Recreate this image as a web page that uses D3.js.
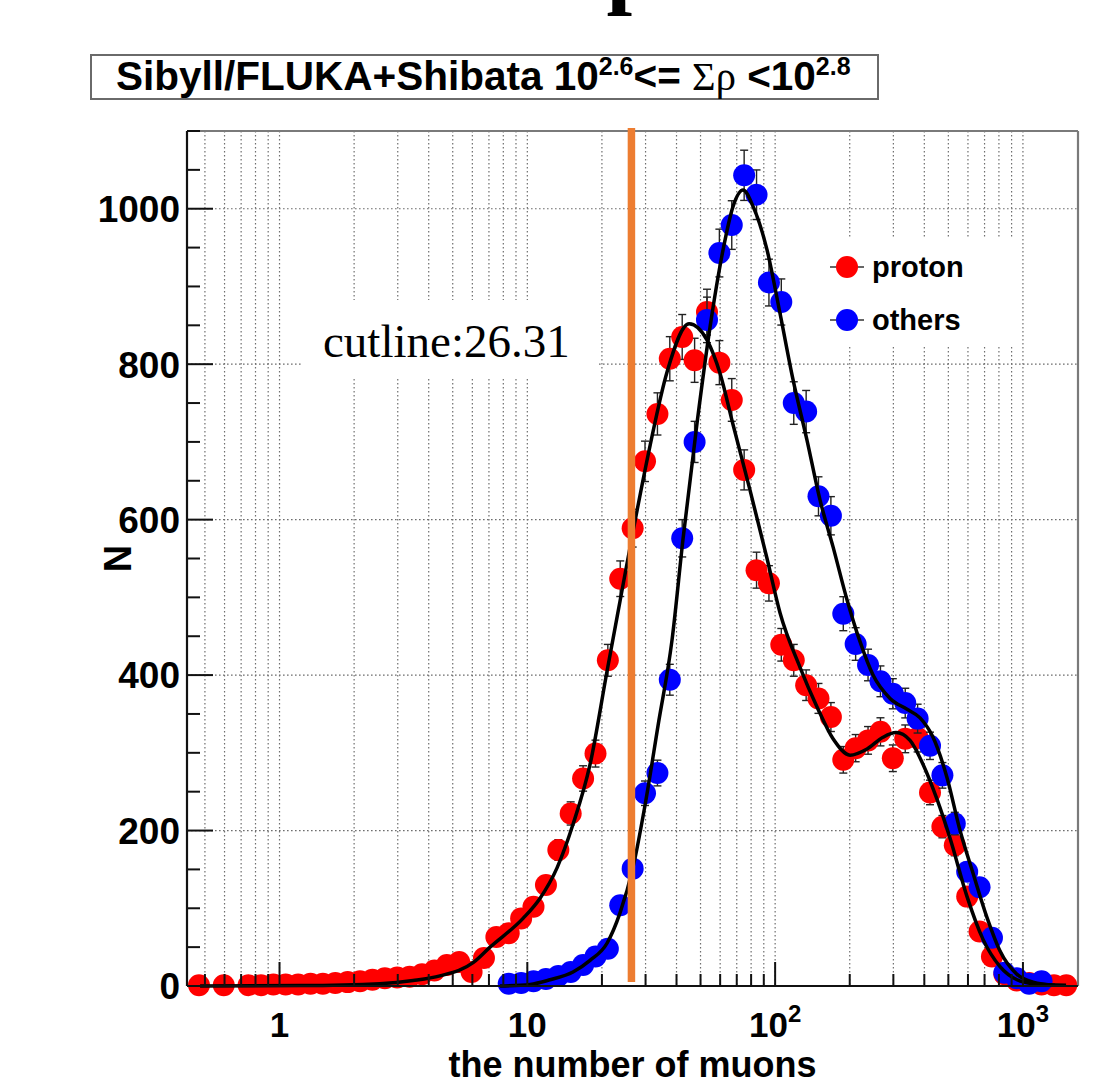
<!DOCTYPE html>
<html>
<head>
<meta charset="utf-8">
<script src="https://cdn.jsdelivr.net/npm/d3@7"></script>
<style>
  html, body { margin: 0; padding: 0; background: #fff; }
  svg { display: block; }
</style>
</head>
<body>
<svg id="chart" width="1108" height="1084"></svg>
<script>
// ---------------- DATA ----------------
// log-spaced bin centres (number of muons)
const binCenters = [0.4732,0.5309,0.5957,0.6683,0.7499,0.8414,0.9441,1.059,1.189,1.334,
  1.496,1.679,1.884,2.113,2.371,2.661,2.985,3.350,3.758,4.217,
  4.732,5.309,5.957,6.683,7.499,8.414,9.441,10.59,11.89,13.34,
  14.96,16.79,18.84,21.13,23.71,26.61,29.85,33.50,37.58,42.17,
  47.32,53.09,59.57,66.83,74.99,84.14,94.41,105.9,118.9,133.4,
  149.6,167.9,188.4,211.3,237.1,266.1,298.5,335.0,375.8,421.7,
  473.2,530.9,595.7,668.3,749.9,841.4,944.1,1059,1189,1334,1496];

const protonCounts = [1,null,1,null,1,1,2,2,2,3,
  3,4,5,6,8,10,11,12,15,20,
  27,31,18,36,63,68,87,102,130,175,
  222,267,299,419,524,589,675,736,807,835,
  805,867,802,754,664,535,518,439,419,387,
  370,346,291,306,316,327,293,318,319,249,
  205,181,115,70,38,15,7,4,2,1,1];

const othersCounts = [null,null,null,null,null,null,null,null,null,null,
  null,null,null,null,null,null,null,null,null,null,
  null,null,null,null,null,3,4,6,9,13,
  18,27,38,48,104,151,248,274,394,576,
  700,857,943,979,1043,1018,905,880,750,739,
  630,605,479,440,413,392,376,364,344,309,
  271,209,147,127,62,17,10,3,6,null,null];

// fitted curves
const protonFitX = [0.478,1.21,2.54,3.46,4.44,6.04,7.07,9.61,11.26,13.18,15.29,17.91,20.97,23.66,26.71,
  31.27,36.63,44.95,53.12,59.95,67.65,79.18,92.75,104.7,126.0,147.6,171.3,200.6,234.9,272.5,
  307.5,350.3,395.4,450.3,508.0,594.9,690.2,808.3,946.6,1098.5,1492.6];
const protonFitY = [0,0.5,3,7,13,30,50,87,113,152,208,285,405,495,585,
  695,790,852,831,788,722,638,550,480,410,359,318,297,305,320,
  326,316,285,240,190,115,60,25,8,3,1];

const othersFitX = [7.76,10.25,12.35,15.29,17.91,20.97,23.66,26.71,30.13,33.69,38.36,42.49,48.39,54.63,61.63,
  67.65,74.22,81.44,92.75,104.7,118.1,134.5,151.8,171.3,195.0,220.1,248.4,290.9,340.7,384.4,
  433.8,494.0,557.5,629.0,716.3,808.3,946.6,1098.5,1347.4];
const othersFitY = [0,2,8,18,33,55,94,153,240,335,445,575,724,848,947,
  1003,1024,1003,947,865,780,702,625,565,497,443,400,370,356,345,
  320,268,200,145,88,45,15,5,1];

const cutValue = 26.31;
const yMajorTicks = [0,200,400,600,800,1000];
const yMinorStep = 50;
const xMajorTicks = [1,10,100,1000];
const xTickBase = ["1","10","10","10"];
const xTickExp  = ["","","2","3"];
const seriesNames = ["proton","others"];
const seriesColors = ["#ff0000","#0000ff"];

// ---------------- CHART ----------------
const svg = d3.select("#chart");
const L = 187, R = 1078, T = 131, B = 986;
const x = d3.scaleLog().domain([0.4233, 1668]).range([L, R]);
const y = d3.scaleLinear().domain([0, 1100]).range([B, T]);
const FONT = "'Liberation Sans', Arial, Helvetica, sans-serif";

// cut-off big title glyph at top (only its descender is visible)
svg.append("text").attr("x", 632).attr("y", -3)
  .attr("text-anchor", "middle")
  .style("font-family", "'Liberation Serif', 'Times New Roman', serif")
  .style("font-weight", "bold").style("font-size", "92px").text("p");

// title box
svg.append("rect").attr("x", 91).attr("y", 55).attr("width", 787).attr("height", 44)
  .attr("fill", "#fff").attr("stroke", "#6a6a6a").attr("stroke-width", 2);
const tt = svg.append("text").attr("x", 116).attr("y", 90)
  .style("font-family", FONT).style("font-weight", "bold").style("font-size", "40.5px");
tt.append("tspan").text("Sibyll/FLUKA+Shibata 10");
tt.append("tspan").attr("dy", -15).style("font-size", "25px").text("2.6");
tt.append("tspan").attr("dy", 15).text("<= ");
tt.append("tspan").style("font-family", "'Liberation Serif', 'DejaVu Serif', serif")
  .style("font-weight", "normal").text("\u03A3\u03C1");
tt.append("tspan").text(" <10");
tt.append("tspan").attr("dy", -15).style("font-size", "25px").text("2.8");

const plot = svg.append("g");

// grid
const gridStyle = g => g.attr("stroke", "#6e6e6e").attr("stroke-width", 1.2)
  .attr("stroke-dasharray", "1.6,2.4").attr("fill", "none");
const gx = plot.append("g").call(gridStyle);
x.ticks().forEach(v => {
  gx.append("line").attr("x1", x(v)).attr("x2", x(v)).attr("y1", T).attr("y2", B);
});
const gy = plot.append("g").call(gridStyle);
yMajorTicks.filter(v => v > 0).forEach(v => {
  gy.append("line").attr("x1", L).attr("x2", R).attr("y1", y(v)).attr("y2", y(v));
});

// white boxes (cutline label & legend) over grid
plot.append("rect").attr("x", 302).attr("y", 300).attr("width", 295).attr("height", 78).attr("fill", "#fff");
plot.append("rect").attr("x", 822).attr("y", 237).attr("width", 196).attr("height", 110).attr("fill", "#fff");

// data points with sqrt(N) error bars
const series = [protonCounts, othersCounts];
series.forEach((arr, si) => {
  const pts = binCenters.map((c, i) => ({c, v: arr[i]})).filter(d => d.v !== null);
  const g = plot.append("g");
  pts.forEach(d => {
    const e = Math.sqrt(d.v);
    const px = x(d.c);
    g.append("line").attr("x1", px).attr("x2", px).attr("y1", y(d.v + e)).attr("y2", y(Math.max(0, d.v - e)))
      .attr("stroke", "#222").attr("stroke-width", 1.4);
    [d.v + e, Math.max(0, d.v - e)].forEach(yy => {
      g.append("line").attr("x1", px - 4).attr("x2", px + 4).attr("y1", y(yy)).attr("y2", y(yy))
        .attr("stroke", "#222").attr("stroke-width", 1.4);
    });
  });
  g.selectAll("circle").data(pts).enter().append("circle")
    .attr("cx", d => x(d.c)).attr("cy", d => y(d.v)).attr("r", 11)
    .attr("fill", seriesColors[si]);
});

// fitted curves
const line = d3.line().x(d => x(d[0])).y(d => y(d[1])).curve(d3.curveMonotoneX);
[[protonFitX, protonFitY], [othersFitX, othersFitY]].forEach(([fx, fy]) => {
  plot.append("path").datum(fx.map((v, i) => [v, fy[i]])).attr("d", line)
    .attr("fill", "none").attr("stroke", "#000").attr("stroke-width", 3.5);
});

// legend
seriesNames.forEach((name, i) => {
  const ly = 267 + i * 53;
  plot.append("line").attr("x1", 830).attr("x2", 864).attr("y1", ly).attr("y2", ly)
    .attr("stroke", "#333").attr("stroke-width", 1.5);
  plot.append("circle").attr("cx", 847).attr("cy", ly).attr("r", 11).attr("fill", seriesColors[i]);
  plot.append("text").attr("x", 872).attr("y", ly + 10)
    .style("font-family", FONT).style("font-weight", "bold").style("font-size", "29px").text(name);
});

// cutline label
plot.append("text").attr("x", 323).attr("y", 357)
  .style("font-family", "'Liberation Serif', 'Times New Roman', serif").style("font-size", "47px")
  .text("cutline:" + cutValue);

// frame
plot.append("line").attr("x1", L).attr("x2", R).attr("y1", T).attr("y2", T).attr("stroke", "#7a7a7a").attr("stroke-width", 2.2);
plot.append("line").attr("x1", R).attr("x2", R).attr("y1", T).attr("y2", B).attr("stroke", "#7a7a7a").attr("stroke-width", 2.2);

// axes
const ax = svg.append("g");
ax.append("line").attr("x1", L).attr("x2", L).attr("y1", T).attr("y2", B).attr("stroke", "#111").attr("stroke-width", 2.2);
ax.append("line").attr("x1", L).attr("x2", R).attr("y1", B).attr("y2", B).attr("stroke", "#111").attr("stroke-width", 2.2);
// y ticks
d3.range(0, 1100 + 1, yMinorStep).forEach(v => {
  const major = yMajorTicks.includes(v);
  ax.append("line").attr("x1", L).attr("x2", L + (major ? 26 : 13)).attr("y1", y(v)).attr("y2", y(v))
    .attr("stroke", "#111").attr("stroke-width", 2);
});
yMajorTicks.forEach(v => {
  ax.append("text").attr("x", 180).attr("y", y(v)).attr("dy", "0.36em").attr("text-anchor", "end")
    .style("font-family", FONT).style("font-weight", "bold").style("font-size", "37px").text(v);
});
// x ticks
x.ticks().forEach(v => {
  const major = xMajorTicks.includes(v);
  ax.append("line").attr("x1", x(v)).attr("x2", x(v)).attr("y1", B).attr("y2", B - (major ? 24 : 12))
    .attr("stroke", "#111").attr("stroke-width", 2);
});
xMajorTicks.forEach((v, i) => {
  const t = ax.append("text").attr("x", x(v)).attr("y", 1037).attr("text-anchor", "middle")
    .style("font-family", FONT).style("font-weight", "bold").style("font-size", "35px");
  t.append("tspan").text(xTickBase[i]);
  if (xTickExp[i]) t.append("tspan").attr("dy", -15).style("font-size", "24px").text(xTickExp[i]);
});
// axis titles
ax.append("text").attr("x", (L + R) / 2).attr("y", 1077).attr("text-anchor", "middle")
  .style("font-family", FONT).style("font-weight", "bold").style("font-size", "36px").text("the number of muons");
ax.append("text").attr("transform", `translate(131,${(T + B) / 2}) rotate(-90)`).attr("text-anchor", "middle")
  .style("font-family", FONT).style("font-weight", "bold").style("font-size", "38px").text("N");

// cut line (orange)
svg.append("line").attr("x1", x(cutValue)).attr("x2", x(cutValue)).attr("y1", T - 3).attr("y2", B - 4)
  .attr("stroke", "#ED7D31").attr("stroke-width", 7.5);
</script>
</body>
</html>
